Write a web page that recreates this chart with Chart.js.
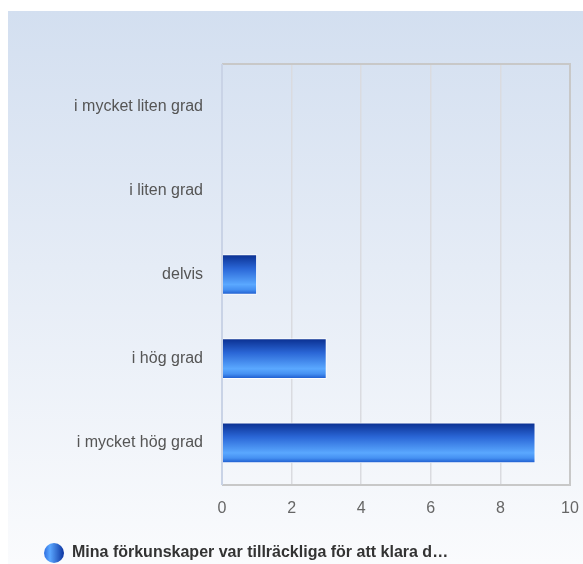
<!DOCTYPE html>
<html>
<head>
<meta charset="utf-8">
<script src="https://cdn.jsdelivr.net/npm/chart.js@4"></script>
<style>
  html, body { margin: 0; padding: 0; background: #fff; }
  #wrap { width: 583px; height: 564px; position: relative; }
</style>
</head>
<body>
<div id="wrap"><canvas id="chart" width="583" height="564"></canvas></div>
<script>
// Data
const categories = ['i mycket liten grad', 'i liten grad', 'delvis', 'i hög grad', 'i mycket hög grad'];
const counts = [0, 0, 1, 3, 9];
const seriesLabel = 'Mina förkunskaper var tillräckliga för att klara d…';
const xTicks = [0, 2, 4, 6, 8, 10];

const BAR_H = 40;
const FONT = 'Liberation Sans, Arial, sans-serif';

// legend marker: small shaded ball
const marker = document.createElement('canvas');
marker.width = 22; marker.height = 22;
(() => {
  const c = marker.getContext('2d');
  const g = c.createLinearGradient(1, 0, 21, 0);
  g.addColorStop(0, '#2f6fe0');
  g.addColorStop(0.3, '#5aa6ff');
  g.addColorStop(1, '#0c34a0');
  c.fillStyle = g;
  c.beginPath(); c.arc(11, 11, 10, 0, Math.PI * 2); c.fill();
})();

function barFill(ctx) {
  const chart = ctx.chart;
  const y = chart.scales.y;
  if (!chart.chartArea || !y) return '#2a5fcf';
  const mid = y.getPixelForValue(ctx.dataIndex);
  const g = chart.ctx.createLinearGradient(0, mid - BAR_H / 2, 0, mid + BAR_H / 2);
  g.addColorStop(0, '#0a2f90');
  g.addColorStop(0.35, '#2a66d6');
  g.addColorStop(0.75, '#5aa8ff');
  g.addColorStop(0.88, '#4590f2');
  g.addColorStop(1, '#1a58cc');
  return g;
}

const backdrop = {
  id: 'backdrop',
  beforeDraw(chart) {
    const { ctx, width, height } = chart;
    ctx.save();
    ctx.fillStyle = '#fff';
    ctx.fillRect(0, 0, width, height);
    const g = ctx.createLinearGradient(0, 11, 0, height);
    g.addColorStop(0, '#d3dff0');
    g.addColorStop(1, '#fafbfd');
    ctx.fillStyle = g;
    ctx.fillRect(8, 11, width - 8, height - 11);
    ctx.restore();
  },
  afterDatasetsDraw(chart) {
    // frame round the plot area (top / right / bottom)
    const { ctx, chartArea: a } = chart;
    ctx.save();
    ctx.strokeStyle = '#c8c8c8';
    ctx.lineWidth = 2;
    ctx.beginPath();
    ctx.moveTo(a.left, a.top);
    ctx.lineTo(a.right, a.top);
    ctx.lineTo(a.right, a.bottom);
    ctx.lineTo(a.left, a.bottom);
    ctx.stroke();
    ctx.strokeStyle = '#c9d3e6';
    ctx.beginPath();
    ctx.moveTo(a.left, a.top);
    ctx.lineTo(a.left, a.bottom);
    ctx.stroke();
    ctx.restore();
  },
};

new Chart(document.getElementById('chart'), {
  type: 'bar',
  data: {
    labels: categories,
    datasets: [{
      label: seriesLabel,
      data: counts,
      backgroundColor: barFill,
      borderColor: 'rgba(255,255,255,0.85)',
      borderWidth: 1,
      borderSkipped: 'start',
      barThickness: BAR_H,
      pointStyle: marker,
    }],
  },
  options: {
    indexAxis: 'y',
    responsive: false,
    animation: false,
    devicePixelRatio: 1,
    layout: { padding: { top: 64, right: 4, left: 40, bottom: -7 } },
    plugins: {
      tooltip: { enabled: false },
      legend: {
        position: 'bottom',
        align: 'start',
        labels: {
          usePointStyle: true,
          pointStyleWidth: 20,
          padding: 4,
          color: '#333',
          font: { family: FONT, size: 16, weight: 'bold' },
        },
      },
    },
    scales: {
      x: {
        min: 0, max: 10,
        afterBuildTicks: s => { s.ticks = xTicks.map(v => ({ value: v })); },
        afterFit: s => { s.height = 56; s.paddingRight = 13; },
        grid: { color: '#dadbe0', lineWidth: 1.5, drawTicks: false },
        border: { display: false },
        ticks: { color: '#666', padding: 14, font: { family: FONT, size: 16 } },
      },
      y: {
        afterFit: s => { s.width = 222 - 40; },
        grid: { display: false, drawTicks: false },
        border: { display: false },
        ticks: { color: '#555', padding: 19, font: { family: FONT, size: 16 } },
      },
    },
  },
  plugins: [backdrop],
});
</script>
</body>
</html>
